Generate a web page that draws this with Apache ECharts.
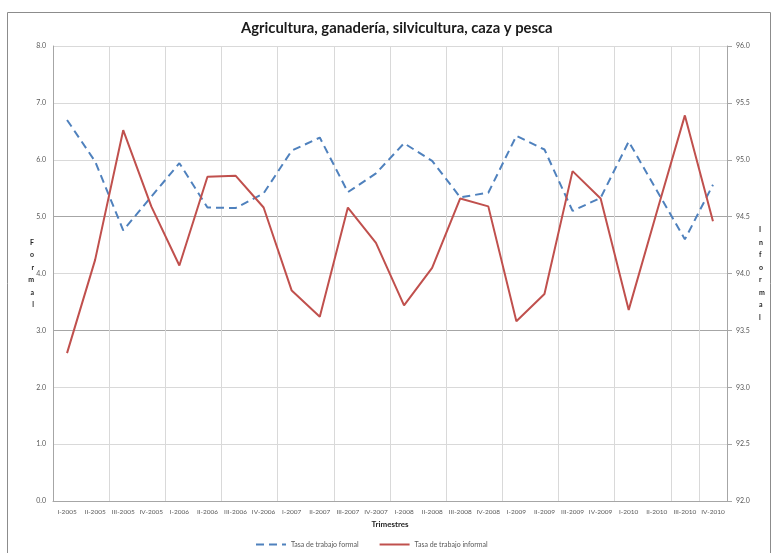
<!DOCTYPE html>
<html>
<head>
<meta charset="utf-8">
<script src="https://cdn.jsdelivr.net/npm/echarts@6/dist/echarts.min.js"></script>
<style>
  html, body { margin: 0; padding: 0; background: #ffffff; }
  #chart { width: 774px; height: 553px; }
</style>
</head>
<body>
<div id="chart"></div>
<script>
// Quarters 2005-2010
var trimestres = [
  'I-2005', 'II-2005', 'III-2005', 'IV-2005',
  'I-2006', 'II-2006', 'III-2006', 'IV-2006',
  'I-2007', 'II-2007', 'III-2007', 'IV-2007',
  'I-2008', 'II-2008', 'III-2008', 'IV-2008',
  'I-2009', 'II-2009', 'III-2009', 'IV-2009',
  'I-2010', 'II-2010', 'III-2010', 'IV-2010'
];

// Formal employment rate (left axis)
var tasaFormal = [
  6.70, 5.97, 4.76, 5.35,
  5.94, 5.16, 5.15, 5.41,
  6.16, 6.39, 5.43, 5.76,
  6.29, 5.98, 5.34, 5.42,
  6.42, 6.18, 5.10, 5.33,
  6.32, 5.46, 4.60, 5.56
];

// Informal employment rate (right axis)
var tasaInformal = [
  93.30, 94.12, 95.26, 94.59,
  94.07, 94.85, 94.86, 94.58,
  93.85, 93.62, 94.58, 94.27,
  93.72, 94.05, 94.66, 94.59,
  93.58, 93.82, 94.90, 94.66,
  93.68, 94.54, 95.39, 94.46
];

var serieNames = ['Tasa de trabajo formal', 'Tasa de trabajo informal'];
var titulo = 'Agricultura, ganadería, silvicultura, caza y pesca';

var light = '#d9d9d9';
var dark = '#a6a6a6';
var labelColor = '#595959';
var fontFam = 'Lato, "Liberation Sans", sans-serif';

var chart = echarts.init(document.getElementById('chart'), null, { renderer: 'canvas' });

chart.setOption({
  backgroundColor: '#ffffff',
  animation: false,
  graphic: [{
    type: 'rect',
    left: 5, top: 10,
    shape: { width: 763, height: 545 },
    style: { fill: 'none', stroke: '#8c8c8c', lineWidth: 1 },
    z: -1
  }],
  title: {
    text: titulo,
    left: 236,
    top: 16,
    textStyle: { fontFamily: fontFam, fontWeight: 'bold', fontSize: 14.8, color: '#1a1a1a' }
  },
  legend: {
    bottom: 0,
    left: 250,
    itemWidth: 30,
    itemHeight: 8,
    itemGap: 20,
    itemStyle: { opacity: 0 },
    textStyle: { fontFamily: fontFam, fontSize: 7, color: labelColor },
    data: serieNames
  },
  grid: { left: 53, right: 47, top: 46, bottom: 52, containLabel: false },
  xAxis: {
    type: 'category',
    data: trimestres,
    boundaryGap: true,
    name: 'Trimestres',
    nameLocation: 'middle',
    nameGap: 19,
    nameTextStyle: { fontFamily: fontFam, fontWeight: 'bold', fontSize: 8, color: '#262626' },
    axisLine: { lineStyle: { color: dark } },
    axisTick: { show: false },
    axisLabel: { interval: 0, fontFamily: fontFam, fontSize: 6.5, color: labelColor, margin: 7 },
    splitLine: { show: true, interval: 1, lineStyle: { color: light, width: 1 } }
  },
  yAxis: [{
    type: 'value',
    min: 0, max: 8, interval: 1,
    name: 'F\no\nr\nm\na\nl',
    nameLocation: 'middle',
    nameRotate: 0,
    nameGap: 19,
    nameMoveOverlap: false,
    nameTextStyle: { fontFamily: fontFam, fontWeight: 'bold', fontSize: 7, color: '#262626', lineHeight: 12.5 },
    axisLine: { show: true, lineStyle: { color: dark } },
    axisTick: { show: false },
    axisLabel: { fontFamily: fontFam, fontSize: 7, color: labelColor, margin: 7,
      formatter: function (v) { return v.toFixed(1); } },
    splitLine: { show: true, lineStyle: { color: [light, light, light, dark, light, dark, light, light, light], width: 1 } }
  }, {
    type: 'value',
    min: 92, max: 96, interval: 0.5,
    position: 'right',
    name: 'I\nn\nf\no\nr\nm\na\nl',
    nameLocation: 'middle',
    nameRotate: 0,
    nameGap: 32,
    nameMoveOverlap: false,
    nameTextStyle: { fontFamily: fontFam, fontWeight: 'bold', fontSize: 7, color: '#262626', lineHeight: 12.5 },
    axisLine: { show: true, lineStyle: { color: dark } },
    axisTick: { show: true, inside: false, length: 5, lineStyle: { color: dark } },
    axisLabel: { fontFamily: fontFam, fontSize: 7, color: labelColor, margin: 9,
      formatter: function (v) { return v.toFixed(1); } },
    splitLine: { show: false }
  }],
  series: [{
    name: serieNames[0],
    type: 'line',
    yAxisIndex: 0,
    data: tasaFormal,
    symbol: 'none',
    lineStyle: { color: '#4f81bd', width: 2, type: [8, 5] },
    itemStyle: { color: '#4f81bd' }
  }, {
    name: serieNames[1],
    type: 'line',
    yAxisIndex: 1,
    data: tasaInformal,
    symbol: 'none',
    lineStyle: { color: '#c0504d', width: 2 },
    itemStyle: { color: '#c0504d' }
  }]
});
</script>
</body>
</html>
